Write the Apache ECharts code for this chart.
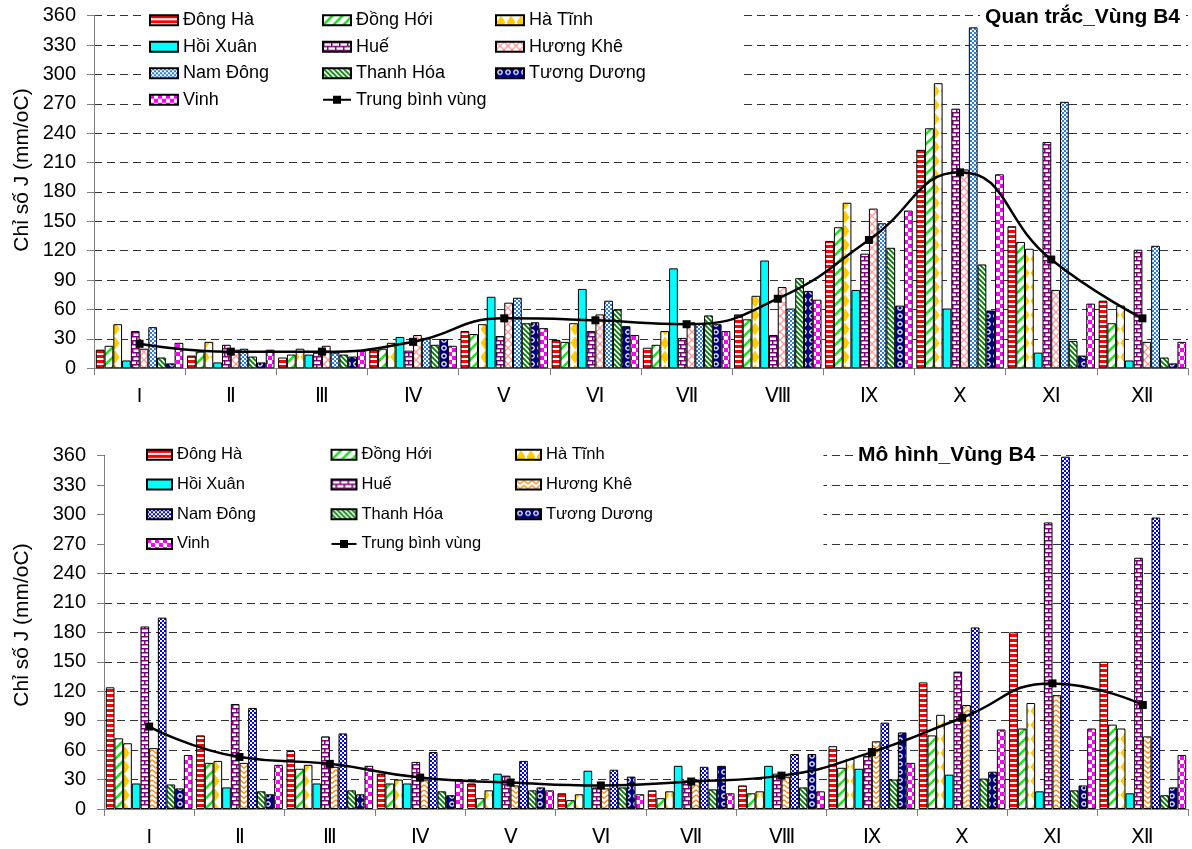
<!DOCTYPE html>
<html>
<head>
<meta charset="utf-8">
<script src="https://cdn.jsdelivr.net/npm/echarts@6/dist/echarts.min.js"></script>
<style>
html, body { margin: 0; padding: 0; background: #fff; }
#top { position: absolute; left: 0; top: 0; width: 1192px; height: 424px; }
#bottom { position: absolute; left: 0; top: 424px; width: 1192px; height: 425px; }
</style>
</head>
<body>
<div id="top"></div>
<div id="bottom"></div>
<script>
// Months (Roman numerals) and stations
const months = ['I', 'Ⅱ', 'Ⅲ', 'Ⅳ', 'Ⅴ', 'Ⅵ', 'Ⅶ', 'Ⅷ', 'Ⅸ', 'Ⅹ', 'Ⅺ', 'Ⅻ'];
const stations = ['Đông Hà', 'Đồng Hới', 'Hà Tĩnh', 'Hồi Xuân', 'Huế', 'Hương Khê',
                  'Nam Đông', 'Thanh Hóa', 'Tương Dương', 'Vinh'];
const avgName = 'Trung bình vùng';
const yTitle = 'Chỉ số J (mm/oC)';

// Observed index J (Quan trắc)
const obsDongHa     = [19, 13, 11, 19, 38, 29, 21, 55, 130, 223, 145, 69];
const obsDongHoi    = [23, 17, 14, 20, 35, 27, 24, 50, 144, 245, 129, 46];
const obsHaTinh     = [45, 27, 20, 26, 45, 46, 38, 74, 169, 291, 122, 64];
const obsHoiXuan    = [8, 6, 14, 32, 73, 81, 102, 110, 80, 61, 16, 8];
const obsHue        = [38, 24, 16, 18, 33, 38, 31, 34, 117, 265, 231, 121];
const obsHuongKhe   = [20, 19, 23, 34, 67, 55, 47, 83, 163, 203, 80, 27];
const obsNamDong    = [42, 20, 16, 31, 72, 69, 46, 61, 148, 348, 272, 125];
const obsThanhHoa   = [11, 12, 14, 24, 46, 60, 54, 92, 123, 106, 28, 11];
const obsTuongDuong = [5, 6, 12, 30, 47, 43, 45, 79, 64, 59, 13, 5];
const obsVinh       = [26, 19, 18, 23, 41, 34, 38, 70, 161, 198, 66, 27];
const obsAverage    = [25, 17, 17, 27, 51, 49, 45, 71, 131, 200, 111, 51];

// Model index J (Mô hình)
const modDongHa     = [124, 75, 59, 36, 26, 16, 19, 24, 64, 129, 180, 150];
const modDongHoi    = [72, 47, 41, 26, 11, 9, 11, 16, 42, 75, 82, 86];
const modHaTinh     = [67, 49, 45, 30, 19, 15, 18, 18, 51, 96, 108, 82];
const modHoiXuan    = [26, 22, 26, 26, 36, 39, 44, 44, 41, 35, 18, 16];
const modHue        = [186, 107, 74, 48, 34, 22, 29, 36, 54, 140, 292, 256];
const modHuongKhe   = [62, 47, 43, 30, 24, 21, 30, 33, 69, 106, 116, 74];
const modNamDong    = [195, 103, 77, 58, 49, 40, 43, 56, 88, 185, 359, 297];
const modThanhHoa   = [25, 18, 19, 18, 19, 22, 20, 22, 30, 31, 19, 14];
const modTuongDuong = [21, 15, 15, 14, 22, 33, 44, 56, 78, 38, 24, 22];
const modVinh       = [55, 45, 44, 29, 19, 15, 16, 18, 47, 81, 82, 55];
const modAverage    = [84, 53, 46, 32, 27, 24, 28, 34, 58, 93, 128, 106];

const FONT = '"Liberation Sans", Arial, sans-serif';

// ---- fill patterns ----
function makePattern(w, h, bg, paint) {
  const c = document.createElement('canvas');
  c.width = w; c.height = h;
  const g = c.getContext('2d');
  if (bg) { g.fillStyle = bg; g.fillRect(0, 0, w, h); }
  paint(g, w, h);
  return { image: c, repeat: 'repeat' };
}
function hStripes(color) {
  return makePattern(4, 5, '#fff', g => { g.fillStyle = color; g.fillRect(0, 0, 4, 3); });
}
function diagonal(color, size, lw, forward) {
  return makePattern(size, size, '#fff', g => {
    g.strokeStyle = color; g.lineWidth = lw; g.lineCap = 'square';
    g.beginPath();
    for (let k = -1; k <= 1; k++) {
      if (forward) { g.moveTo(k * size, size); g.lineTo(k * size + size, 0); }
      else { g.moveTo(k * size, 0); g.lineTo(k * size + size, size); }
    }
    g.stroke();
  });
}
function diamonds(color) {
  return makePattern(10, 14, '#fff', g => {
    g.fillStyle = color;
    g.beginPath();
    g.moveTo(5, 0.5); g.lineTo(9.5, 7); g.lineTo(5, 13.5); g.lineTo(0.5, 7);
    g.closePath(); g.fill();
  });
}
function bricks(color) {
  return makePattern(8, 8, '#fff', g => {
    g.fillStyle = color;
    g.fillRect(0, 0, 8, 1.5); g.fillRect(0, 4, 8, 1.5);
    g.fillRect(0, 0, 1.5, 4); g.fillRect(4, 4, 1.5, 4);
  });
}
function trellis(color) {
  return makePattern(8, 8, '#fff', g => {
    g.strokeStyle = color; g.lineWidth = 1.3;
    g.beginPath();
    g.moveTo(0, 0); g.lineTo(8, 8); g.moveTo(8, 0); g.lineTo(0, 8);
    g.stroke();
  });
}
function zigzag(color) {
  return makePattern(8, 5, '#fff', g => {
    g.strokeStyle = color; g.lineWidth = 1.5;
    g.beginPath();
    g.moveTo(0, 0.8); g.lineTo(4, 4.2); g.lineTo(8, 0.8);
    g.stroke();
  });
}
function smallChecker(color) {
  return makePattern(4, 4, color, g => {
    g.fillStyle = '#fff'; g.fillRect(0, 0, 2, 2); g.fillRect(2, 2, 2, 2);
  });
}
function rings(color) {
  return makePattern(8, 8, color, g => {
    g.strokeStyle = '#fff'; g.lineWidth = 1.2;
    g.beginPath(); g.arc(4, 4, 2.2, 0, Math.PI * 2); g.stroke();
  });
}
function bigChecker(color) {
  return makePattern(8, 8, '#fff', g => {
    g.fillStyle = color; g.fillRect(0, 0, 4, 4); g.fillRect(4, 4, 4, 4);
  });
}

const obsFills = [
  hStripes('#ff0000'), diagonal('#22e022', 10, 2.6, true), diamonds('#ffcc00'), '#00ffff',
  bricks('#800080'), trellis('#ff9999'), smallChecker('#2a80dc'), diagonal('#008000', 5, 1.8, false),
  rings('#000080'), bigChecker('#ff00ff')
];
const modFills = [
  hStripes('#ff0000'), diagonal('#22e022', 10, 2.6, true), diamonds('#ffcc00'), '#00ffff',
  bricks('#800080'), zigzag('#ff8c1a'), smallChecker('#0000ff'), diagonal('#008000', 5, 1.8, false),
  rings('#000080'), bigChecker('#ff00ff')
];

function buildSeries(values, fills, avg) {
  const list = stations.map((name, i) => ({
    type: 'bar',
    name: name,
    data: values[i],
    barGap: '0%',
    barCategoryGap: '4%',
    itemStyle: { color: fills[i], borderColor: '#000', borderWidth: 1 },
    emphasis: { disabled: true }
  }));
  list.push({
    type: 'line',
    name: avgName,
    data: avg,
    smooth: 0.5,
    symbol: 'rect',
    symbolSize: 8,
    itemStyle: { color: '#000' },
    lineStyle: { color: '#000', width: 2.5 },
    emphasis: { disabled: true },
    z: 5
  });
  return list;
}

function legendData() {
  return stations.map(n => ({ name: n, icon: 'rect' })).concat([{ name: avgName }]);
}

function buildOption(p) {
  return {
    animation: false,
    textStyle: { fontFamily: FONT },
    title: {
      text: p.title,
      left: p.titleLeft, right: p.titleRight, top: p.titleTop,
      padding: [2, 5, 2, 5],
      backgroundColor: '#fff',
      textStyle: { fontFamily: FONT, fontSize: p.titleSize, fontWeight: 'bold', color: '#000' }
    },
    legend: {
      left: p.legLeft, top: p.legTop, width: p.legWidth,
      padding: p.legPadding,
      itemGap: 0,
      itemWidth: p.legIconW, itemHeight: 10,
      backgroundColor: '#fff',
      selectedMode: false,
      textStyle: { fontFamily: FONT, fontSize: p.legFont, color: '#000',
                   width: p.legTextW, lineHeight: p.legRow },
      data: legendData()
    },
    grid: { left: p.gridLeft, right: 4, top: p.gridTop, bottom: p.gridBottom, containLabel: false },
    xAxis: {
      type: 'category',
      data: months,
      boundaryGap: true,
      axisLine: { show: true, lineStyle: { color: '#808080', width: 1 } },
      axisTick: { show: true, length: 7, alignWithLabel: false, lineStyle: { color: '#808080' } },
      axisLabel: { fontSize: 20, color: '#000', margin: 18, fontFamily: FONT }
    },
    yAxis: {
      type: 'value',
      min: 0, max: 360, interval: 30,
      axisLine: { show: true, lineStyle: { color: '#808080', width: 1 } },
      axisTick: { show: true, length: 7, lineStyle: { color: '#808080' } },
      axisLabel: { fontSize: 20, color: '#000', margin: 18, fontFamily: FONT },
      splitLine: { show: true, lineStyle: { color: '#333', width: 1, type: [8, 5] } }
    },
    graphic: [{
      type: 'text',
      x: 22, y: p.yTitleY,
      rotation: Math.PI / 2,
      style: { text: yTitle, fontFamily: FONT, fontSize: 21, fill: '#000',
               align: 'center', verticalAlign: 'middle' }
    }],
    series: p.series
  };
}

const topChart = echarts.init(document.getElementById('top'), null, { renderer: 'canvas' });
topChart.setOption(buildOption({
  title: 'Quan trắc_Vùng B4', titleRight: 7, titleTop: 5, titleSize: 21,
  legLeft: 142, legTop: 5, legWidth: 520, legPadding: [2, 72, 0, 7],
  legIconW: 28, legTextW: 139, legRow: 26.5, legFont: 18,
  gridLeft: 94, gridTop: 15.6, gridBottom: 55.7,
  yTitleY: 170,
  series: buildSeries(
    [obsDongHa, obsDongHoi, obsHaTinh, obsHoiXuan, obsHue, obsHuongKhe,
     obsNamDong, obsThanhHoa, obsTuongDuong, obsVinh],
    obsFills, obsAverage)
}));

const bottomChart = echarts.init(document.getElementById('bottom'), null, { renderer: 'canvas' });
bottomChart.setOption(buildOption({
  title: 'Mô hình_Vùng B4', titleLeft: 853, titleTop: 19, titleSize: 21,
  legLeft: 105, legTop: 16, legWidth: 560, legPadding: [0, 124, 0, 41],
  legIconW: 25, legTextW: 153.5, legRow: 29.7, legFont: 16.5,
  gridLeft: 104, gridTop: 31.7, gridBottom: 40,
  yTitleY: 201,
  series: buildSeries(
    [modDongHa, modDongHoi, modHaTinh, modHoiXuan, modHue, modHuongKhe,
     modNamDong, modThanhHoa, modTuongDuong, modVinh],
    modFills, modAverage)
}));
</script>
</body>
</html>
